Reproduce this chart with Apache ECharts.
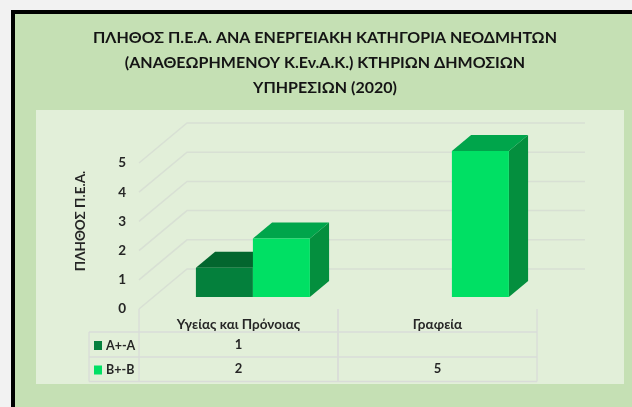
<!DOCTYPE html>
<html><head><meta charset="utf-8">
<style>html,body{margin:0;padding:0;background:#f2f2f2}#c{width:632px;height:407px}</style>
<script src="https://cdn.jsdelivr.net/npm/echarts@6/dist/echarts.min.js"></script>
</head><body><div id="c"></div>
<script>
const titleLines = ['ΠΛΗΘΟΣ Π.Ε.Α. ΑΝΑ ΕΝΕΡΓΕΙΑΚΗ ΚΑΤΗΓΟΡΙΑ ΝΕΟΔΜΗΤΩΝ','(ΑΝΑΘΕΩΡΗΜΕΝΟΥ Κ.Εν.Α.Κ.) ΚΤΗΡΙΩΝ ΔΗΜΟΣΙΩΝ','ΥΠΗΡΕΣΙΩΝ (2020)'];
const categories = ['Υγείας και Πρόνοιας','Γραφεία'];
const seriesNames = ['A+-A','B+-B'];
const valuesA = [1,null];
const valuesB = [2,5];
const yTicks = [0,1,2,3,4,5];
const yAxisName = 'ΠΛΗΘΟΣ Π.Ε.Α.';

const FONT='Lato';
const DEPTH_X=48, DEPTH_Y=-40, NEAR=0.3, FAR=0.7, BAR_FRAC=0.2864;
const project=(p,d)=>[p[0]+DEPTH_X*d,p[1]+DEPTH_Y*d];
const poly=(points,fill)=>({type:'polygon',shape:{points},style:{fill}});
const LINE='#d8e0d4', TBL='#d9dcd8';
const ROW1=332, ROW2=357, ROW3=381.5, TOP=309, LEFT_T=89;

function barRenderer(side,cFront,cTop,cSide){
  return function(params,api){
    const i=api.value(0), v=api.value(1);
    const band=api.size([1,0])[0], w=band*BAR_FRAC;
    const b=api.coord([i,0]), t=api.coord([i,v]);
    const x0=b[0]+(side<0?-w:0), x1=x0+w;
    const fb0=project([x0,b[1]],NEAR), fb1=project([x1,b[1]],NEAR);
    const ft0=project([x0,t[1]],NEAR), ft1=project([x1,t[1]],NEAR);
    const bb1=project([x1,b[1]],FAR), bt0=project([x0,t[1]],FAR), bt1=project([x1,t[1]],FAR);
    return {type:'group',children:[
      poly([fb1,bb1,bt1,ft1],cSide),
      poly([ft0,ft1,bt1,bt0],cTop),
      poly([fb0,fb1,ft1,ft0],cFront)
    ]};
  };
}
const pairs=a=>a.map((v,i)=>[i,v]).filter(d=>d[1]!==null);

const chart=echarts.init(document.getElementById('c'),null,{renderer:'canvas'});
chart.setOption({
  animation:false,
  backgroundColor:'#f2f2f2',
  graphic:[
    {type:'rect',z:-10,shape:{x:13,y:12,width:700,height:500},style:{fill:'#c5e0b4',stroke:'#000',lineWidth:4}},
    {type:'rect',z:-9,shape:{x:36,y:110,width:588,height:274},style:{fill:'#e2efd9'}}
  ],
  title:{text:titleLines.join('\n'),left:320,top:20,textAlign:'center',
    textStyle:{fontFamily:FONT,fontSize:16,fontWeight:'bold',color:'#141414',lineHeight:25}},
  grid:{left:139,top:163,width:398,height:146},
  legend:{data:seriesNames,orient:'vertical',left:94,top:339,itemWidth:8,itemHeight:9,itemGap:11.5,
    icon:'rect',selectedMode:false,padding:0,
    textStyle:{fontFamily:FONT,fontSize:12.5,fontWeight:'bold',color:'#262626',padding:[0,0,0,-1]}},
  xAxis:{type:'category',data:categories,axisLine:{show:false},axisTick:{show:false},
    axisLabel:{margin:9,fontFamily:FONT,fontSize:13.5,fontWeight:'bold',color:'#262626'}},
  yAxis:{type:'value',min:0,max:5,interval:1,axisLine:{show:false},axisTick:{show:false},splitLine:{show:false},
    name:yAxisName,nameLocation:'middle',nameGap:51,nameRotate:90,
    nameTextStyle:{fontFamily:FONT,fontSize:13.5,fontWeight:'bold',color:'#262626',padding:[0,0,0,30]},
    axisLabel:{margin:13,fontFamily:FONT,fontSize:13.5,fontWeight:'bold',color:'#262626'}},
  series:[
    {type:'custom',name:'walls',silent:true,z:1,data:yTicks.map(v=>[0,v]),
     encode:{x:0,y:1},
     renderItem(params,api){
       const v=api.value(1), band=api.size([1,0])[0];
       const c=api.coord([0,v]);
       const l=[c[0]-band/2,c[1]];
       const back=project(l,1);
       const right=[back[0]+band*categories.length,back[1]];
       return {type:'polyline',shape:{points:[l,back,right]},style:{stroke:LINE,lineWidth:1.5,fill:null}};
     }},
    {type:'custom',name:seriesNames[0],z:3,itemStyle:{color:'#04803c'},data:pairs(valuesA),encode:{x:0,y:1},
     renderItem:barRenderer(-1,'#04803c','#03662e','#03662e')},
    {type:'custom',name:seriesNames[1],z:4,itemStyle:{color:'#00e064'},data:pairs(valuesB),encode:{x:0,y:1},
     renderItem:barRenderer(1,'#00e064','#00a54b','#048f3e')},
    {type:'custom',name:'tableGrid',silent:true,z:2,data:[...categories.map((c,i)=>[i,0])],encode:{x:0,y:1},
     renderItem(params,api){
       const i=api.value(0), band=api.size([1,0])[0], c=api.coord([i,0]);
       const xl=c[0]-band/2, xr=c[0]+band/2;
       const seg=(x1,y1,x2,y2)=>({type:'line',shape:{x1,y1,x2,y2},style:{stroke:TBL,lineWidth:1.3}});
       const kids=[seg(xl,TOP,xl,ROW3),seg(xr,TOP,xr,ROW3),seg(xl,ROW1,xr,ROW1),seg(xl,ROW2,xr,ROW2),seg(xl,ROW3,xr,ROW3)];
       if(i===0){
         kids.push(seg(LEFT_T,ROW1,xl,ROW1),seg(LEFT_T,ROW2,xl,ROW2),seg(LEFT_T,ROW3,xl,ROW3),seg(LEFT_T,ROW1,LEFT_T,ROW3));
       }
       const cell=(val,y)=>val===null?null:({type:'text',style:{text:String(val),x:c[0],y,align:'center',verticalAlign:'middle',
         fontFamily:FONT,fontSize:13,fontWeight:'bold',fill:'#262626'}});
       [cell(valuesA[i],(ROW1+ROW2)/2),cell(valuesB[i],(ROW2+ROW3)/2)].forEach(k=>k&&kids.push(k));
       return {type:'group',children:kids};
     }}
  ]
});
</script></body></html>
